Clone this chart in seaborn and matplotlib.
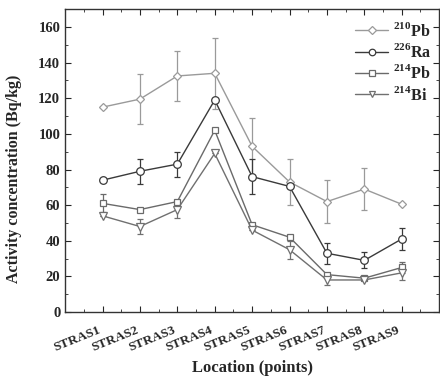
import numpy as np
import pandas as pd
import seaborn as sns
import matplotlib.pyplot as plt
from matplotlib.ticker import MultipleLocator

# --- data ---
locations = ['STRAS1', 'STRAS2', 'STRAS3', 'STRAS4', 'STRAS5',
             'STRAS6', 'STRAS7', 'STRAS8', 'STRAS9']

pb210 = [115, 119.5, 132.5, 134, 93, 73, 62, 69, 60.5]
pb210_err = [0, 14, 14, 20, 16, 13, 12, 12, 0]

ra226 = [74, 79, 83, 119, 76, 70.5, 33, 29, 41]
ra226_err = [0, 7, 7, 0, 10, 0, 6, 4.5, 6]

pb214 = [61, 57.5, 62, 102, 49, 42, 21, 19, 25]
pb214_err = [5, 0, 0, 0, 0, 0, 0, 0, 3]

bi214 = [54, 48, 57.5, 89, 46, 35, 18, 18, 22]
bi214_err = [0, 4, 5, 0, 0, 5, 3, 0, 4]

series_names = ['$^{\\mathbf{210}}$Pb', '$^{\\mathbf{226}}$Ra',
                '$^{\\mathbf{214}}$Pb', '$^{\\mathbf{214}}$Bi']

sns.set_style('ticks')
plt.rcParams['font.family'] = ['Liberation Serif', 'DejaVu Serif']
plt.rcParams['font.weight'] = 'bold'
plt.rcParams['mathtext.fontset'] = 'custom'
plt.rcParams['mathtext.rm'] = 'Liberation Serif:bold'
plt.rcParams['mathtext.bf'] = 'Liberation Serif:bold'

x = np.arange(1, len(locations) + 1)
df = pd.DataFrame({
    'x': np.tile(x, 4),
    'value': pb210 + ra226 + pb214 + bi214,
    'err': pb210_err + ra226_err + pb214_err + bi214_err,
    'series': np.repeat(series_names, len(locations)),
})

colors = ['#9a9a9a', '#3a3a3a', '#6a6a6a', '#707070']
markers = ['D', 'o', 's', 'v']
msizes = [4.5, 5.5, 4.5, 5.5]

fig = plt.figure(figsize=(4.4, 3.81), dpi=100)
ax = fig.add_axes([0.148, 0.181, 0.85, 0.795])

for name, col, mk, ms in zip(series_names, colors, markers, msizes):
    sub = df[df['series'] == name]
    ax.errorbar(sub['x'], sub['value'], yerr=sub['err'], fmt='none',
                ecolor=col, elinewidth=0.9, capsize=2.5, capthick=0.9, zorder=1)
    sns.lineplot(data=sub, x='x', y='value', ax=ax, color=col, marker=mk,
                 markersize=ms, markerfacecolor='white', markeredgecolor=col,
                 markeredgewidth=0.9, linewidth=1.0, label=name, zorder=2)

ax.set_xlim(0, 10)
ax.set_ylim(0, 170)
ax.set_xticks(x)
ax.set_xticklabels(locations, rotation=22, ha='right', fontsize=9.5, fontweight='bold')
ax.xaxis.set_minor_locator(MultipleLocator(0.5))
ax.yaxis.set_major_locator(MultipleLocator(20))
ax.yaxis.set_minor_locator(MultipleLocator(10))
ax.tick_params(which='both', direction='in', top=True, right=True)
ax.tick_params(which='major', length=4)
ax.tick_params(axis='x', which='major', pad=9)
ax.tick_params(axis='y', which='major', labelsize=10.5)
ax.tick_params(which='minor', length=2)
for lab in ax.get_yticklabels():
    lab.set_fontweight('bold')

ax.set_xlabel('Location (points)', fontsize=12, fontweight='bold', labelpad=4)
ax.set_ylabel('Activity concentration (Bq/kg)', fontsize=11.5, fontweight='bold')
ax.yaxis.set_label_coords(-0.115, 0.44)

ax.legend(loc='upper right', bbox_to_anchor=(1.015, 1.0), frameon=False,
          fontsize=11.5, handlelength=2.1, borderaxespad=0.4, labelspacing=0.2,
          handletextpad=0.3, markerscale=0.85)

for s in ax.spines.values():
    s.set_linewidth(1.0)
    s.set_color('#333333')

fig.savefig('out.png', dpi=100)
